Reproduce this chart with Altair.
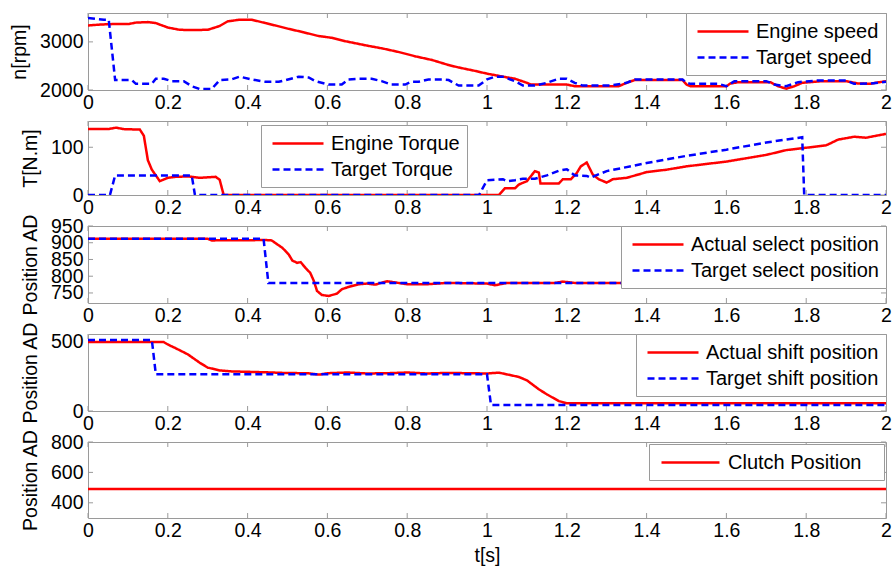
import altair as alt
import pandas as pd

# ---------------- data ----------------
# Panel 1: speed [rpm]
t_engine_speed = [0, 0.03, 0.06, 0.1, 0.12, 0.15, 0.17, 0.2, 0.23, 0.26, 0.3, 0.33, 0.35, 0.38, 0.41, 0.445,
                  0.47, 0.503, 0.54, 0.578, 0.611, 0.645, 0.695, 0.74, 0.78, 0.82, 0.862, 0.904, 0.929, 0.97,
                  1.0, 1.04, 1.07, 1.1, 1.11, 1.2, 1.22, 1.33, 1.35, 1.37, 1.49, 1.5, 1.51, 1.6, 1.61, 1.63,
                  1.71, 1.73, 1.75, 1.77, 1.79, 1.84, 1.9, 1.93, 1.96, 2.0]
engine_speed = [3340, 3360, 3369, 3369, 3400, 3411, 3390, 3298, 3250, 3248, 3250, 3330, 3426, 3461, 3461, 3390,
                3340, 3270, 3200, 3121, 3085, 3014, 2929, 2860, 2787, 2700, 2624, 2518, 2468, 2397,
                2340, 2277, 2234, 2149, 2113, 2113, 2078, 2078, 2149, 2206, 2206, 2113, 2078, 2078, 2135, 2163,
                2163, 2078, 2028, 2078, 2149, 2184, 2184, 2135, 2130, 2184]
t_target_speed = [0, 0.04, 0.052, 0.068, 0.11, 0.12, 0.16, 0.17, 0.19, 0.21, 0.24, 0.26, 0.28, 0.31, 0.33,
                  0.36, 0.38, 0.41, 0.445, 0.478, 0.495, 0.528, 0.553, 0.57, 0.603, 0.636, 0.653, 0.678, 0.711,
                  0.736, 0.76, 0.795, 0.81, 0.828, 0.853, 0.887, 0.904, 0.929, 0.979, 1.0, 1.02, 1.04, 1.07,
                  1.09, 1.12, 1.15, 1.18, 1.2, 1.22, 1.24, 1.31, 1.35, 1.37, 1.49, 1.5, 1.51, 1.58, 1.6,
                  1.62, 1.7, 1.72, 1.75, 1.78, 1.83, 1.9, 1.92, 1.96, 2.0]
target_speed = [3496, 3460, 3460, 2206, 2206, 2128, 2128, 2234, 2234, 2184, 2184, 2078, 2021, 2021, 2206,
                2220, 2277, 2220, 2170, 2170, 2206, 2277, 2260, 2184, 2113, 2113, 2220, 2234, 2234,
                2184, 2113, 2113, 2170, 2170, 2220, 2220, 2206, 2092, 2092, 2220, 2277, 2277, 2184,
                2092, 2092, 2149, 2234, 2234, 2149, 2092, 2092, 2149, 2220, 2220, 2149, 2128, 2128, 2078,
                2184, 2184, 2113, 2078, 2163, 2199, 2199, 2128, 2135, 2170]

# Panel 2: torque [N.m]
t_engine_torque = [0, 0.05, 0.07, 0.09, 0.13, 0.14, 0.15, 0.16, 0.18, 0.2, 0.22, 0.25, 0.28, 0.3, 0.32, 0.33,
                   0.34, 1.03, 1.045, 1.07, 1.08, 1.1, 1.12, 1.13, 1.134, 1.18, 1.19, 1.21, 1.225, 1.235,
                   1.25, 1.265, 1.28, 1.3, 1.315, 1.35, 1.38, 1.4, 1.45, 1.5, 1.6, 1.7, 1.75, 1.8, 1.85,
                   1.88, 1.92, 1.95, 2.0]
engine_torque = [138, 138, 141, 138, 137, 124, 73, 53, 29, 36, 38, 39, 36, 37, 38, 32,
                 0, 0, 14, 14, 22, 29, 50, 47, 24, 24, 33, 33, 46, 60,
                 68, 43, 33, 26, 33, 36, 43, 48, 53, 60, 70, 84, 94, 99, 104,
                 116, 122, 120, 128]
t_target_torque = [0, 0.055, 0.068, 0.26, 0.268, 0.98, 1.0, 1.04, 1.05, 1.07, 1.09, 1.12, 1.15, 1.18, 1.2,
                   1.22, 1.25, 1.26, 1.27, 1.3, 1.4, 1.5, 1.6, 1.7, 1.79, 1.795, 2.0]
target_torque = [0, 0, 41, 41, 0, 0, 31, 33, 29, 31, 34, 34, 41, 51, 54,
                 41, 40, 36, 40, 50, 67, 82, 95, 110, 121, 0, 0]

# Panel 3: select position
t_actual_select = [0, 0.3, 0.31, 0.445, 0.46, 0.487, 0.503, 0.512, 0.524, 0.533, 0.545, 0.557, 0.566, 0.574,
                   0.586, 0.603, 0.624, 0.636, 0.653, 0.678, 0.7, 0.72, 0.75, 0.8, 0.85, 0.9, 1.0, 1.02,
                   1.05, 1.17, 1.19, 1.22, 2.0]
actual_select = [912, 912, 907, 908, 907, 885, 865, 847, 840, 842, 825, 810, 786, 756,
                 744, 741, 748, 761, 768, 776, 778, 775, 785, 776, 776, 780, 778, 773,
                 780, 780, 784, 780, 780]
t_target_select = [0, 0.44, 0.452, 2.0]
target_select = [912, 912, 780, 780]

# Panel 4: shift position
t_actual_shift = [0, 0.19, 0.2, 0.22, 0.25, 0.28, 0.3, 0.33, 0.36, 0.45, 0.5, 0.55, 0.58, 0.6, 0.65, 0.7,
                  0.75, 0.8, 0.85, 0.9, 1.0, 1.03, 1.08, 1.1, 1.13, 1.15, 1.18, 1.2, 2.0]
actual_shift = [492, 492, 475, 448, 405, 345, 310, 290, 283, 276, 271, 270, 260, 270, 275, 268,
                270, 275, 268, 272, 268, 274, 243, 219, 155, 119, 71, 55, 55]
t_target_shift = [0, 0.16, 0.17, 1.0, 1.01, 2.0]
target_shift = [508, 508, 262, 262, 43, 43]

# Panel 5: clutch position
t_clutch = [0, 2.0]
clutch = [490, 490]

X_TICKS = [0, 0.2, 0.4, 0.6, 0.8, 1, 1.2, 1.4, 1.6, 1.8, 2]

# ---------------- style ----------------
FONT = "Liberation Sans"
RED = "#ff0000"
BLUE = "#0000ff"
GRAY = "#9a9a9a"
W = 798
TICK = 5
SOLID = [1, 0]
DASH = [7, 4]
AXIS_FS = 19.5
LEG_FS = 20


def panel(series, ydomain, yticks, ytitle, height, legend_kw, xtitle=None,
          sym_path="M-0.7,0H4.4", label_off=40, suffix=""):
    names = [s[0] for s in series]
    colors = [s[3] for s in series]
    dashes = [s[4] for s in series]
    lkw = dict(title=None, fillColor="white", strokeColor=GRAY, padding=7, rowPadding=4,
               labelFontSize=LEG_FS, labelFont=FONT, labelColor="black", symbolType=sym_path,
               symbolSize=400, symbolStrokeWidth=2.5, labelOffset=label_off, labelLimit=400)
    if suffix:
        lkw["labelExpr"] = "datum.label + '" + suffix + "'"
    legend = alt.Legend(**lkw, **legend_kw)
    x = alt.X("t:Q", scale=alt.Scale(domain=[0, 2], nice=False, zero=False),
              axis=alt.Axis(values=X_TICKS, format="~g", title=xtitle, labelFlush=False,
                            labelOverlap=False))
    y = alt.Y("v:Q", scale=alt.Scale(domain=ydomain, nice=False, zero=False),
              axis=alt.Axis(values=yticks, format="d", title=ytitle, labelFlush=False,
                            labelOverlap=False))
    layers = []
    xt = pd.DataFrame({"t": X_TICKS})
    yt = pd.DataFrame({"v": yticks})
    ts = dict(color=GRAY, strokeWidth=1)
    layers += [
        alt.Chart(xt).mark_rule(**ts).encode(x=x, y=alt.value(0), y2=alt.value(TICK)),
        alt.Chart(xt).mark_rule(**ts).encode(x=x, y=alt.value(height - TICK), y2=alt.value(height)),
        alt.Chart(yt).mark_rule(**ts).encode(y=y, x=alt.value(0), x2=alt.value(TICK)),
        alt.Chart(yt).mark_rule(**ts).encode(y=y, x=alt.value(W - TICK), x2=alt.value(W)),
    ]
    for name, tv, vv, c, d in series:
        df = pd.DataFrame({"t": tv, "v": vv, "series": name})
        enc = dict(x=x, y=y,
                   color=alt.Color("series:N", scale=alt.Scale(domain=names, range=colors), legend=legend))
        if len(names) > 1:
            enc["strokeDash"] = alt.StrokeDash("series:N", scale=alt.Scale(domain=names, range=dashes),
                                               legend=legend)
        layers.append(alt.Chart(df).mark_line(strokeWidth=2.5, clip=True).encode(**enc))
    return alt.layer(*layers).properties(width=W, height=height)


p1 = panel([("Engine speed", t_engine_speed, engine_speed, RED, SOLID),
            ("Target speed", t_target_speed, target_speed, BLUE, DASH)],
           [2000, 3600], [2000, 3000], "n[rpm]", 77, dict(orient="top-right", offset=0))
p2 = panel([("Engine Torque", t_engine_torque, engine_torque, RED, SOLID),
            ("Target Torque", t_target_torque, target_torque, BLUE, DASH)],
           [0, 155], [0, 100], "T[N.m]", 74, dict(orient="none", legendX=173, legendY=4))
p3 = panel([("Actual select position", t_actual_select, actual_select, RED, SOLID),
            ("Target select position", t_target_select, target_select, BLUE, DASH)],
           [720, 950], [750, 800, 850, 900, 950], "Position AD", 77, dict(orient="top-right", offset=0))
p4 = panel([("Actual shift position", t_actual_shift, actual_shift, RED, SOLID),
            ("Target shift position", t_target_shift, target_shift, BLUE, DASH)],
           [0, 550], [0, 500], "Position AD", 77, dict(orient="top-right", offset=0))
p5 = panel([("Clutch Position", t_clutch, clutch, RED, SOLID)],
           [300, 800], [400, 600, 800], "Position AD", 76, dict(orient="top-right", offset=2),
           xtitle="t[s]", sym_path="M-0.6,0H5.2", label_off=49, suffix="\u2800")

chart = (
    alt.vconcat(p1, p2, p3, p4, p5, spacing=31, bounds="flush")
    .resolve_scale(x="independent", y="independent", color="independent", strokeDash="independent")
    .properties(padding={"left": 9, "top": 12, "right": 0, "bottom": 0})
    .configure_view(stroke=GRAY, strokeWidth=1)
    .configure_axis(domain=False, ticks=False, tickSize=0, grid=False, labelFont=FONT, labelFontSize=AXIS_FS,
                    labelColor="black", titleFont=FONT, titleFontSize=AXIS_FS, titleFontWeight="normal",
                    titleColor="black", labelPadding=5, titlePadding=10)
    .configure_axisX(labelPadding=3, titlePadding=7)
)

chart.save("out.html", embed_options={"renderer": "svg", "actions": False})
